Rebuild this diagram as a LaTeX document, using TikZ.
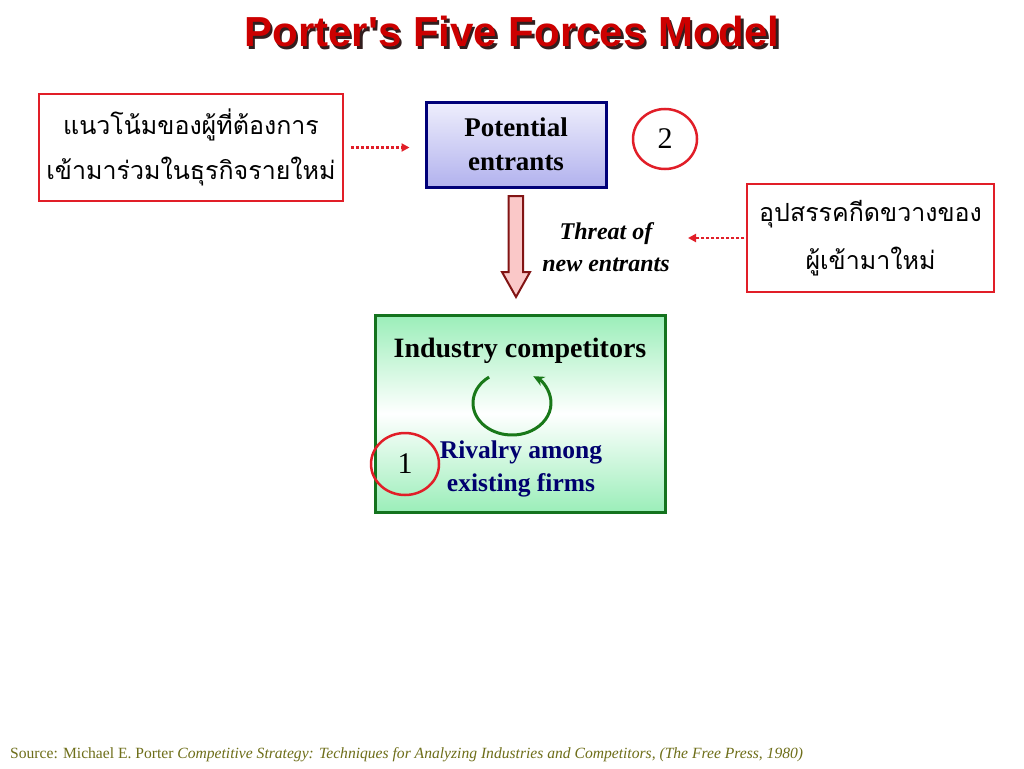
\documentclass[tikz,border=0pt]{standalone}
\usepackage{fontspec}
\setmainfont{Liberation Serif}
\newfontfamily\titlefont{Liberation Sans}
\newfontfamily\thaifont[Script=Thai]{Loma}
\usetikzlibrary{arrows.meta,shapes.geometric}
\definecolor{titlered}{RGB}{204,0,0}
\definecolor{shadowgray}{RGB}{50,30,30}
\definecolor{boxred}{RGB}{225,30,40}
\definecolor{navy}{RGB}{0,0,120}
\definecolor{lavtop}{RGB}{238,238,252}
\definecolor{lavbot}{RGB}{178,178,238}
\definecolor{grnborder}{RGB}{20,115,30}
\definecolor{grnfill}{RGB}{155,238,185}
\definecolor{arrowpink}{RGB}{250,200,200}
\definecolor{arrowred}{RGB}{130,20,20}
\definecolor{circgreen}{RGB}{25,120,25}
\definecolor{rivnavy}{RGB}{0,0,110}
\definecolor{olive}{RGB}{110,110,25}
\newcommand{\shadowtitle}[1]{\rlap{\hspace{2.5pt}\raisebox{-3pt}{\textcolor{shadowgray}{#1}}}\textcolor{titlered}{#1}}
\tikzset{
  thaibox/.style={draw=boxred, line width=1.5pt, fill=white, rectangle, align=center, inner sep=0pt,
    font=\thaifont\fontsize{25}{45}\selectfont},
  numcirc/.style={draw=boxred, line width=2.5pt, ellipse, inner sep=0pt,
    font=\fontsize{30}{30}\selectfont},
  dotarrow/.style={draw=boxred, line width=2.5pt, dash pattern=on 3pt off 2pt,
    -{Triangle[length=8pt,width=8pt]}},
  boldtext/.style={align=center, inner sep=0pt, font=\bfseries\fontsize{27}{34}\selectfont}
}
\begin{document}
\begin{tikzpicture}[x=1pt,y=-1pt]
\useasboundingbox (0,0) rectangle (1024,768);
\fill[white] (0,0) rectangle (1024,768);

% title
\node[font=\titlefont\bfseries\fontsize{42}{42}\selectfont, inner sep=0pt] (title) at (512,33) {\shadowtitle{Porter's Five Forces Model}};

% left Thai box
\node[thaibox, minimum width=304pt, minimum height=107pt] (lbox) at (191,147.5)
  {แนวโน้มของผู้ที่ต้องการ\\เข้ามาร่วมในธุรกิจรายใหม่};

% potential entrants
\node[draw=navy, line width=3pt, top color=lavtop, bottom color=lavbot, rectangle,
  minimum width=180pt, minimum height=85pt, boldtext] (pe) at (516,144.5)
  {Potential\\entrants};

% circle 2
\node[numcirc, minimum width=64pt, minimum height=60pt] (c2) at (665,139) {2};

% left dotted arrow
\draw[dotarrow, shorten <=7pt, shorten >=15pt] (lbox.east) -- (lbox.east -| pe.west);

% big down arrow
\draw[fill=arrowpink, draw=arrowred, line width=2pt, line join=miter]
  (508.5,196) -- (523,196) -- (523,272) -- (530,272) -- (516,297) -- (502,272) -- (508.5,272) -- cycle;

% threat text
\node[align=center, inner sep=0pt, font=\bfseries\itshape\fontsize{24}{32}\selectfont] (threat) at (606,247)
  {Threat of\\new entrants};

% right Thai box
\node[thaibox, minimum width=247pt, minimum height=108pt, font=\thaifont\fontsize{25}{48}\selectfont] (rbox) at (870.5,238)
  {อุปสรรคกีดขวางของ\\ผู้เข้ามาใหม่};
\coordinate (threattip) at (688,238);
\draw[dotarrow, shorten <=2pt] (rbox.west) -- (threattip);

% industry competitors box
\node[draw=grnborder, line width=3pt, rectangle, top color=grnfill, bottom color=grnfill, middle color=white,
  minimum width=290pt, minimum height=197pt] (ic) at (520,413.5) {};
\node[boldtext, font=\bfseries\fontsize{28}{32}\selectfont] (ictext) at (520,351) {Industry competitors};

% circular arrow
\draw[circgreen, line width=3pt, -{Stealth[length=11pt,width=10pt]}]
  (512,403) ++(-126:39 and 32) arc[start angle=-126, end angle=-417, x radius=39, y radius=32];

% rivalry text
\node[align=center, inner sep=0pt, text=rivnavy, font=\bfseries\fontsize{25.5}{33}\selectfont] (rivalry) at (521,469)
  {Rivalry among\\existing firms};

% circle 1
\node[numcirc, minimum width=68pt, minimum height=62pt] (c1) at (405,464) {1};

% source
\node[anchor=base west, inner sep=0pt, text=olive, font=\fontsize{15.6}{16}\selectfont] (source) at (10,758)
  {Source: Michael E. Porter \textit{Competitive Strategy: Techniques for Analyzing Industries and Competitors, (The Free Press, 1980)}};
\end{tikzpicture}
\end{document}
